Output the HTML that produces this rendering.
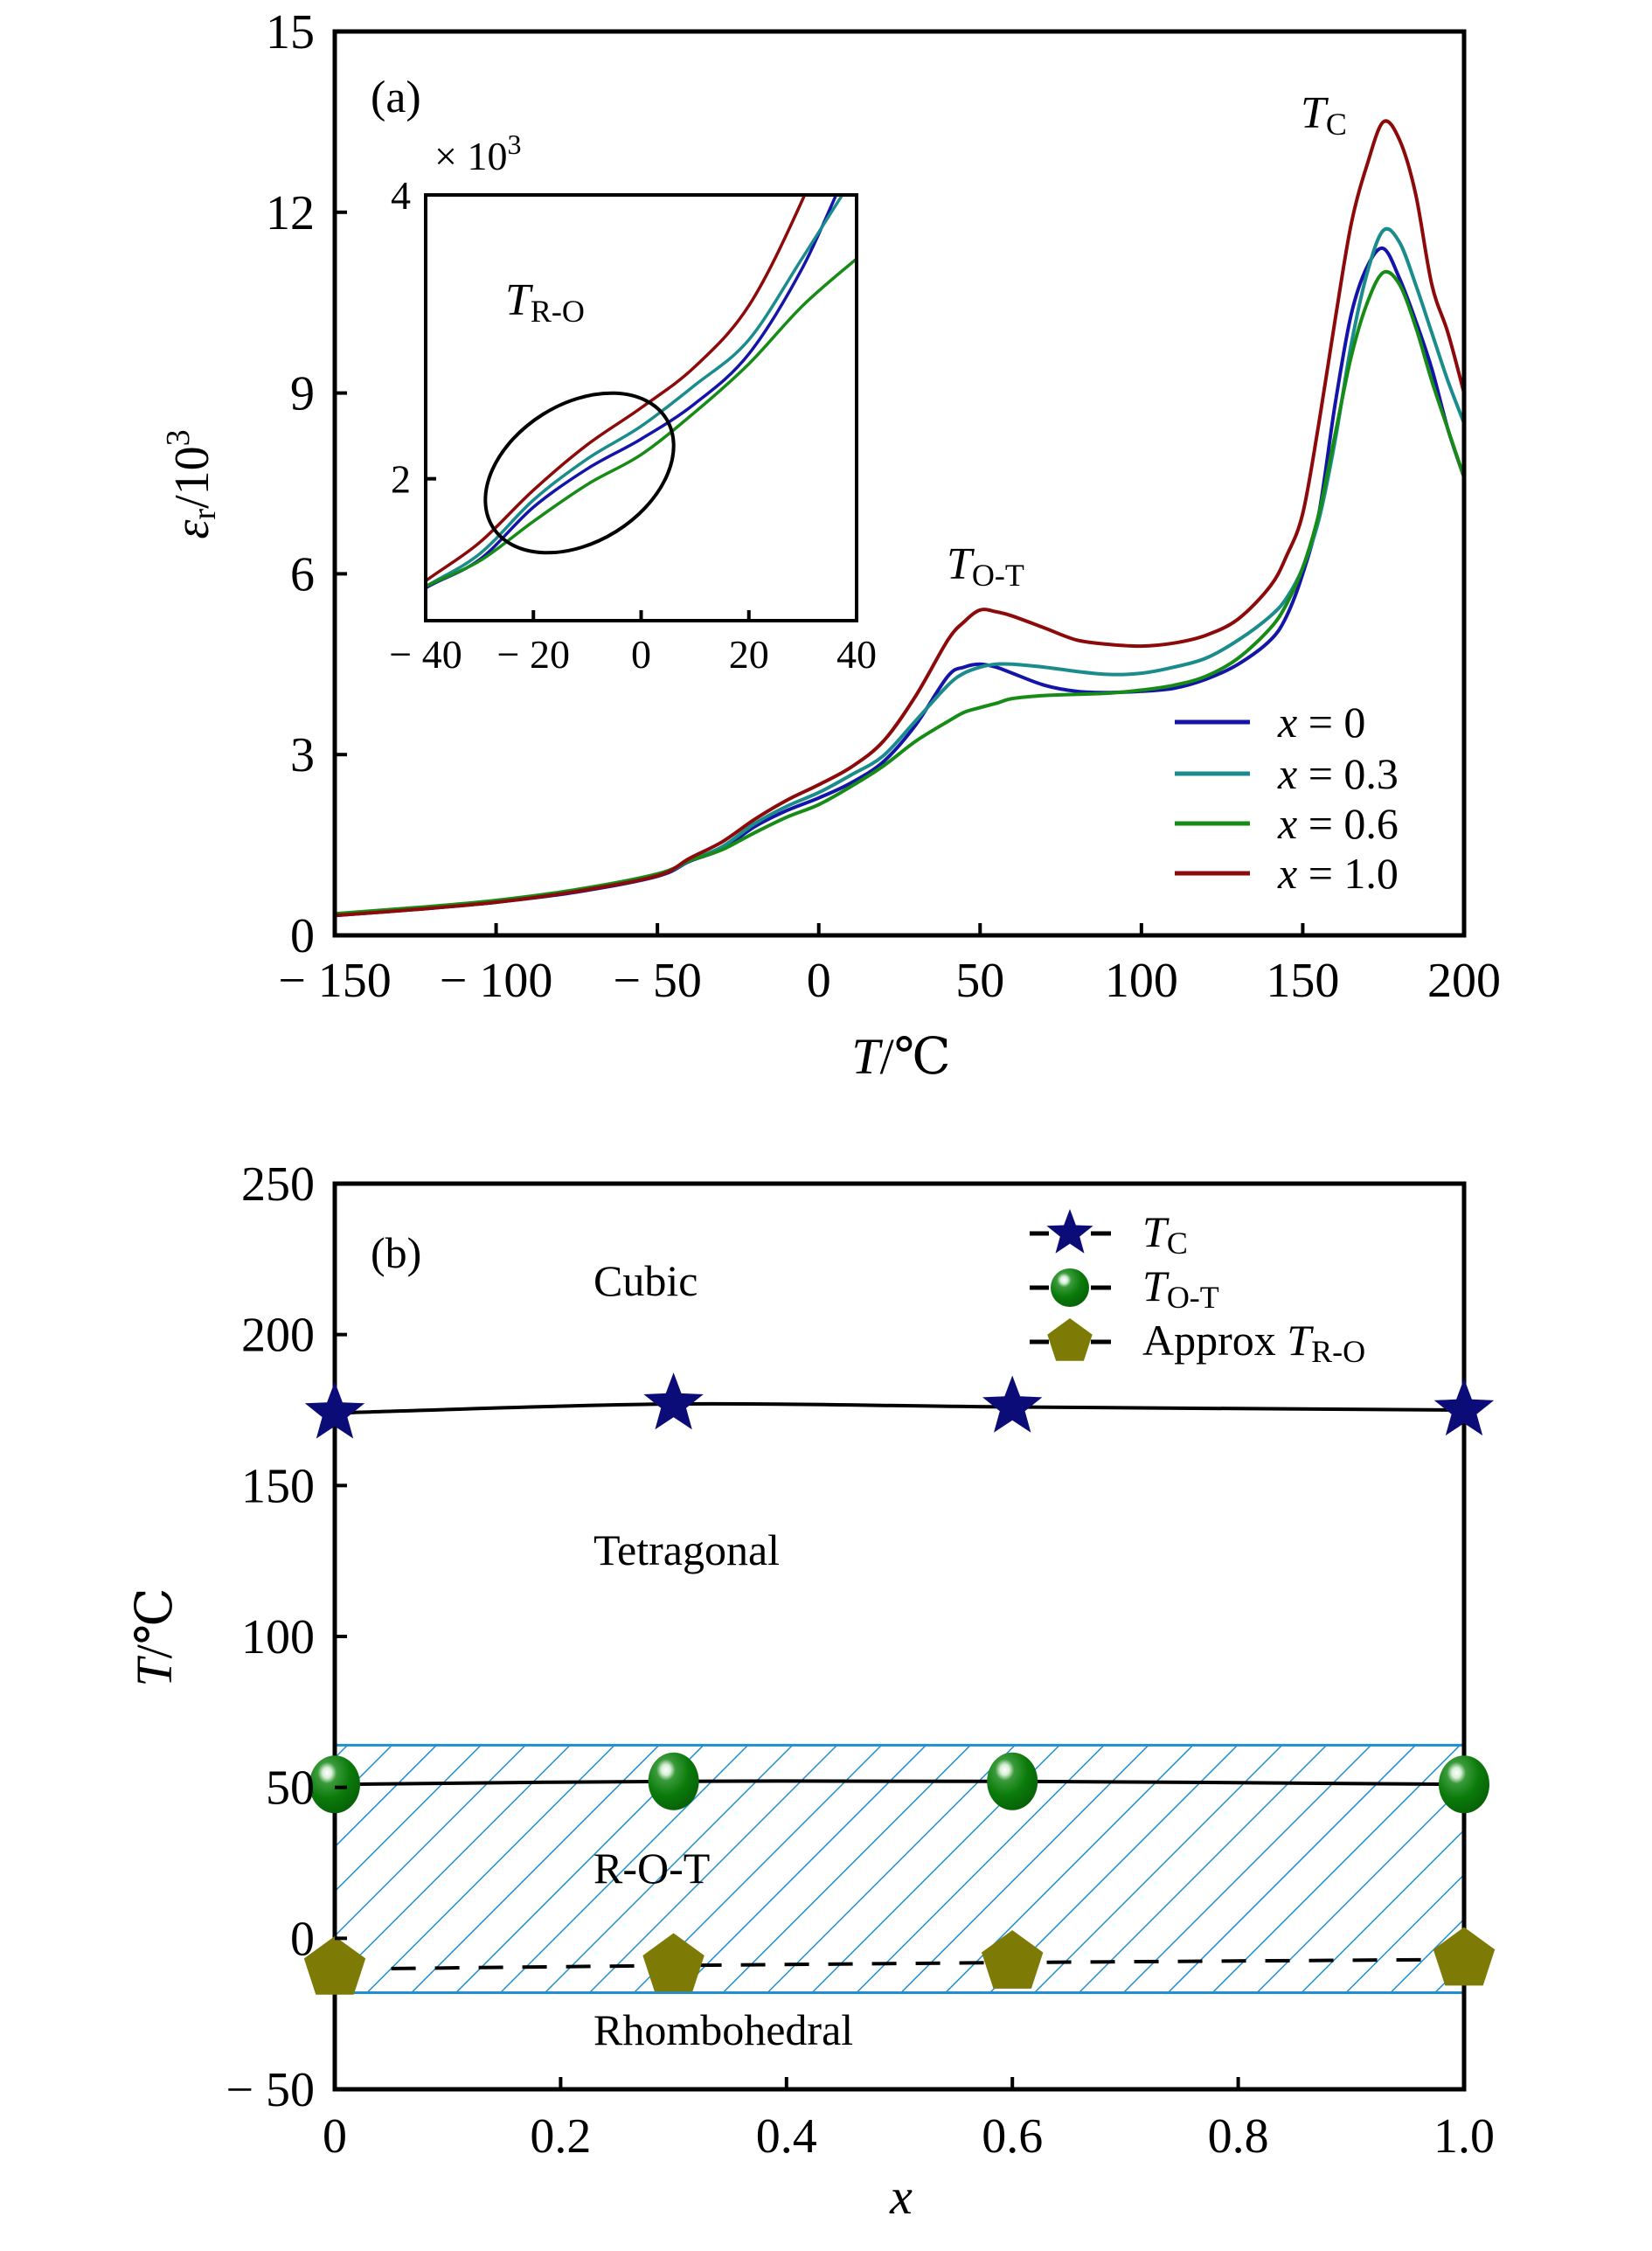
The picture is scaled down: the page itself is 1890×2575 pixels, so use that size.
<!DOCTYPE html>
<html><head><meta charset="utf-8"><style>
html,body{margin:0;padding:0;background:#fff}
svg{display:block}
text{font-family:"Liberation Serif","DejaVu Serif",serif;fill:#000}
</style></head><body>
<svg id="fig" width="1890" height="2575" viewBox="0 0 1890 2575" xmlns="http://www.w3.org/2000/svg">
<defs>
<radialGradient id="ball" cx="0.35" cy="0.3" r="0.75">
<stop offset="0" stop-color="#ffffff"/><stop offset="0.12" stop-color="#d8efd8"/><stop offset="0.25" stop-color="#3a9a3a"/><stop offset="0.6" stop-color="#0a7a0a"/><stop offset="1" stop-color="#086008"/>
</radialGradient>
<pattern id="hatch" patternUnits="userSpaceOnUse" width="36" height="36" patternTransform="rotate(45)">
<line x1="0" y1="0" x2="0" y2="36" stroke="#1f8fd0" stroke-width="3"/>
</pattern>
<clipPath id="clipA"><rect x="383" y="36" width="1292" height="1034"/></clipPath>
<clipPath id="clipI"><rect x="487" y="223" width="493" height="487"/></clipPath>
</defs>
<g id="panelA"></g>
<g id="panelB"></g>
</svg>
<script>
// ---- Panel (a) data ----
const temps = [-150,-125,-100,-75,-50,-40,-30,-20,-10,0,10,20,30,40,45,50,55,60,70,80,90,100,110,120,130,140,145,150,155,160,165,170,175,180,185,190,195,200];
const epsX0  = [0.33,0.43,0.55,0.72,0.98,1.23,1.43,1.80,2.07,2.28,2.53,2.88,3.49,4.30,4.45,4.50,4.45,4.35,4.15,4.05,4.03,4.05,4.10,4.25,4.50,4.90,5.30,6.00,7.00,8.80,10.3,11.1,11.4,10.9,10.2,9.4,8.4,7.6];
const epsX03 = [0.34,0.44,0.56,0.74,1.00,1.24,1.47,1.85,2.14,2.37,2.66,2.98,3.56,4.15,4.35,4.45,4.50,4.50,4.45,4.38,4.33,4.35,4.45,4.60,4.90,5.30,5.60,6.10,6.90,8.20,9.8,11.0,11.7,11.5,10.8,10.0,9.2,8.5];
const epsX06 = [0.36,0.46,0.58,0.76,1.02,1.24,1.42,1.70,1.96,2.17,2.47,2.81,3.22,3.55,3.70,3.78,3.85,3.93,3.98,4.00,4.02,4.07,4.15,4.30,4.60,5.10,5.50,6.10,7.00,8.30,9.6,10.5,11.0,10.8,10.1,9.2,8.4,7.6];
const epsX10 = [0.33,0.43,0.55,0.73,0.99,1.28,1.55,1.92,2.24,2.50,2.79,3.22,3.97,4.90,5.20,5.40,5.37,5.30,5.10,4.90,4.83,4.80,4.85,4.98,5.25,5.80,6.30,7.00,8.50,10.2,11.8,12.8,13.5,13.2,12.3,10.8,10.0,9.0];
const seriesNames = ["x0","x0.3","x0.6","x1.0"];
const seriesLabels = ["0","0.3","0.6","1.0"];
const seriesColors = ["#1414a8","#1a8c8c","#168c16","#8c0a0a"];
const aXTicks = [-150,-100,-50,0,50,100,150,200];
const aYTicks = [0,3,6,9,12,15];
const iXTicks = [-40,-20,0,20,40];
const iYTicks = [2,4];
// ---- Panel (b) data ----
const comps = [0,0.3,0.6,1.0];
const tC  = [174,177,176,175];
const tOT = [51,52,52,51];
const tRO = [-10,-9,-8,-7];
const bandLow = -18, bandHigh = 64;
const bXTicks = [0,0.2,0.4,0.6,0.8,1.0];
const bYTicks = [-50,0,50,100,150,200,250];

const NS="http://www.w3.org/2000/svg";
function mk(parent,tag,attrs,text){const e=document.createElementNS(NS,tag);for(const k in attrs)e.setAttribute(k,attrs[k]);if(text!==undefined)e.textContent=text;parent.appendChild(e);return e;}
function smooth(pts){let d='M'+pts[0][0].toFixed(1)+','+pts[0][1].toFixed(1);for(let i=0;i<pts.length-1;i++){const p0=pts[Math.max(i-1,0)],p1=pts[i],p2=pts[i+1],p3=pts[Math.min(i+2,pts.length-1)];const c1=[p1[0]+(p2[0]-p0[0])/6,p1[1]+(p2[1]-p0[1])/6],c2=[p2[0]-(p3[0]-p1[0])/6,p2[1]-(p3[1]-p1[1])/6];d+=' C'+c1[0].toFixed(1)+','+c1[1].toFixed(1)+' '+c2[0].toFixed(1)+','+c2[1].toFixed(1)+' '+p2[0].toFixed(1)+','+p2[1].toFixed(1);}return d;}

const A={L:383,R:1675,T:36,B:1070};
const ax=v=>A.L+(v+150)/350*(A.R-A.L);
const ay=v=>A.B-v/15*(A.B-A.T);
const I={L:487,R:980,T:223,B:710};
const ix=v=>I.L+(v+40)/80*(I.R-I.L);
const iy=v=>I.B-(v-1)/3*(I.B-I.T);
const pa=document.getElementById('panelA');
const allSeries=[epsX0,epsX03,epsX06,epsX10];

const gA=mk(pa,'g',{'clip-path':'url(#clipA)'});


allSeries.forEach((s,k)=>{
  const p=mk(gA,'path',{d:smooth(temps.map((t,i)=>[ax(t),ay(s[i])])),fill:'none',stroke:seriesColors[k],'stroke-width':4,'stroke-linejoin':'round'});
  
  
});
const fa=mk(pa,'rect',{x:A.L,y:A.T,width:A.R-A.L,height:A.B-A.T,fill:'none',stroke:'#000','stroke-width':5});


aXTicks.forEach(t=>{
  mk(pa,'line',{x1:ax(t),x2:ax(t),y1:A.B,y2:A.B-14,stroke:'#000','stroke-width':4});
  const tx=mk(pa,'text',{x:ax(t),y:1140,'font-size':56,'text-anchor':'middle'},t<0?"\u2212 "+Math.abs(t):String(t));
  
  
});
aYTicks.forEach(t=>{
  mk(pa,'line',{x1:A.L,x2:A.L+14,y1:ay(t),y2:ay(t),stroke:'#000','stroke-width':4});
  const tx=mk(pa,'text',{x:360,y:ay(t)+19,'font-size':56,'text-anchor':'end'},String(t));
  
  
});
const ib=mk(pa,'rect',{x:I.L,y:I.T,width:I.R-I.L,height:I.B-I.T,fill:'#fff',stroke:'#000','stroke-width':4});


const gI=mk(pa,'g',{'clip-path':'url(#clipI)'});


allSeries.forEach((s,k)=>{
  const p=mk(gI,'path',{d:smooth(temps.map((t,i)=>[ix(t),iy(s[i])])),fill:'none',stroke:seriesColors[k],'stroke-width':3.5,'stroke-linejoin':'round'});
  
  
});
mk(pa,'rect',{x:I.L,y:I.T,width:I.R-I.L,height:I.B-I.T,fill:'none',stroke:'#000','stroke-width':4});
iXTicks.forEach(t=>{
  if(t>-40&&t<40)mk(pa,'line',{x1:ix(t),x2:ix(t),y1:I.B,y2:I.B-12,stroke:'#000','stroke-width':4});
  const tx=mk(pa,'text',{x:ix(t),y:764,'font-size':46,'text-anchor':'middle'},t<0?"\u2212 "+Math.abs(t):String(t));
  
  
});
iYTicks.forEach(t=>{
  if(t<4)mk(pa,'line',{x1:I.L,x2:I.L+12,y1:iy(t),y2:iy(t),stroke:'#000','stroke-width':4});
  const tx=mk(pa,'text',{x:470,y:iy(t)+16,'font-size':46,'text-anchor':'end'},String(t));
  
  
});
</script>
<script>
(function(){
const pa=document.getElementById('panelA');
const ell=mk(pa,'ellipse',{cx:663,cy:541,rx:117,ry:79,transform:'rotate(-32 663 541)',fill:'none',stroke:'#000','stroke-width':4});


const sc=mk(pa,'text',{x:497,y:194,'font-size':46});
sc.innerHTML='× 10<tspan dy="-18" font-size="32">3</tspan>';


const lab=(x,y,html,name,fs)=>{const t=mk(pa,'text',{x:x,y:y,'font-size':fs||52});t.innerHTML=html;return t;};
lab(424,128,'(a)','panel-label-a');
lab(1488,146,'<tspan font-style="italic">T</tspan><tspan font-size="36" dy="8">C</tspan>','tc-annotation');
lab(1083,662,'<tspan font-style="italic">T</tspan><tspan font-size="36" dy="8">O-T</tspan>','tot-annotation');
lab(578,360,'<tspan font-style="italic">T</tspan><tspan font-size="36" dy="8">R-O</tspan>','tro-annotation');
const yl=mk(pa,'text',{x:0,y:0,'font-size':56,'text-anchor':'middle',transform:'translate(238 554) rotate(-90)'});
yl.innerHTML='<tspan font-style="italic">ε</tspan><tspan font-size="38" dy="8">r</tspan><tspan dy="-8">/10</tspan><tspan font-size="38" dy="-22">3</tspan>';


const xl=mk(pa,'text',{x:1031,y:1228,'font-size':58,'text-anchor':'middle'});
xl.innerHTML='<tspan font-style="italic">T</tspan>/℃';


const ly=[826,885,942,999];
seriesLabels.forEach((s,k)=>{
  const g=mk(pa,'g',{});
  
  
  mk(g,'line',{x1:1344,x2:1430,y1:ly[k],y2:ly[k],stroke:seriesColors[k],'stroke-width':5});
  const t=mk(g,'text',{x:1462,y:ly[k]+17,'font-size':50});
  t.innerHTML='<tspan font-style="italic">x</tspan> = '+s;
});
})();

(function(){
const B={L:383,R:1675,T:1354,B:2390};
const bx=v=>B.L+v*(B.R-B.L);
const by=v=>B.B-(v+50)/300*(B.B-B.T);
const pb=document.getElementById('panelB');
const band=mk(pb,'rect',{x:B.L,y:by(bandHigh),width:B.R-B.L,height:by(bandLow)-by(bandHigh),fill:'url(#hatch)'});


mk(pb,'line',{x1:B.L,x2:B.R,y1:by(bandHigh),y2:by(bandHigh),stroke:'#1f8fd0','stroke-width':3});
mk(pb,'line',{x1:B.L,x2:B.R,y1:by(bandLow),y2:by(bandLow),stroke:'#1f8fd0','stroke-width':3});
const l1=mk(pb,'path',{d:smooth(comps.map((c,i)=>[bx(c),by(tC[i])])),fill:'none',stroke:'#000','stroke-width':4});


const l2=mk(pb,'path',{d:smooth(comps.map((c,i)=>[bx(c),by(tOT[i])])),fill:'none',stroke:'#000','stroke-width':4});


const l3=mk(pb,'polyline',{points:comps.map((c,i)=>bx(Math.max(c,0.05))+','+by(tRO[i])).join(' '),fill:'none',stroke:'#000','stroke-width':4,'stroke-dasharray':'28 22'});


const fr=mk(pb,'rect',{x:B.L,y:B.T,width:B.R-B.L,height:B.B-B.T,fill:'none',stroke:'#000','stroke-width':5});


function star(cx,cy,r){let p=[];for(let i=0;i<10;i++){const a=-Math.PI/2+i*Math.PI/5;const rr=i%2?r*0.42:r;p.push((cx+rr*Math.cos(a)).toFixed(1)+','+(cy+rr*Math.sin(a)).toFixed(1));}return p.join(' ');}
function pent(cx,cy,r){let p=[];for(let i=0;i<5;i++){const a=-Math.PI/2+i*2*Math.PI/5;p.push((cx+r*Math.cos(a)).toFixed(1)+','+(cy+r*Math.sin(a)).toFixed(1));}return p.join(' ');}
comps.forEach((c,i)=>{
  const s=mk(pb,'polygon',{points:star(bx(c),by(tC[i]),36),fill:'#0c0c78'});
  
  
  const e=mk(pb,'ellipse',{cx:bx(c),cy:by(tOT[i]),rx:29,ry:33,fill:'url(#ball)'});
  
  
  const p=mk(pb,'polygon',{points:pent(bx(c),by(tRO[i]),37),fill:'#7d7a05'});
  
  
});
bXTicks.forEach(t=>{
  mk(pb,'line',{x1:bx(t),x2:bx(t),y1:B.B,y2:B.B-14,stroke:'#000','stroke-width':4});
  const tx=mk(pb,'text',{x:bx(t),y:2462,'font-size':56,'text-anchor':'middle'},t===0?'0':t.toFixed(1));
  
  
});
bYTicks.forEach(t=>{
  mk(pb,'line',{x1:B.L,x2:B.L+14,y1:by(t),y2:by(t),stroke:'#000','stroke-width':4});
  const tx=mk(pb,'text',{x:360,y:by(t)+19,'font-size':56,'text-anchor':'end'},t<0?"\u2212 "+Math.abs(t):String(t));
  
  
});
const lab=(x,y,html,name)=>{const t=mk(pb,'text',{x:x,y:y,'font-size':50});t.innerHTML=html;};
lab(424,1450,'(b)','panel-label-b');
lab(679,1482,'Cubic','region-cubic');
lab(679,1790,'Tetragonal','region-tetragonal');
lab(679,2154,'R-O-T','region-rot');
lab(679,2339,'Rhombohedral','region-rhombohedral');
const yl=mk(pb,'text',{x:0,y:0,'font-size':58,'text-anchor':'middle',transform:'translate(196 1873) rotate(-90)'});
yl.innerHTML='<tspan font-style="italic">T</tspan>/℃';


const xl=mk(pb,'text',{x:1031,y:2532,'font-size':58,'text-anchor':'middle','font-style':'italic'},'x');


const legY=[1411,1473,1535];
const legTxt=['<tspan font-style="italic">T</tspan><tspan font-size="36" dy="8">C</tspan>','<tspan font-style="italic">T</tspan><tspan font-size="36" dy="8">O-T</tspan>','Approx <tspan font-style="italic">T</tspan><tspan font-size="36" dy="8">R-O</tspan>'];
const legNames=['legend-entry-tc','legend-entry-tot','legend-entry-tro'];
legY.forEach((y,k)=>{
  const g=mk(pb,'g',{});
  
  
  mk(g,'line',{x1:1178,x2:1200,y1:y,y2:y,stroke:'#000','stroke-width':5});
  mk(g,'line',{x1:1248,x2:1271,y1:y,y2:y,stroke:'#000','stroke-width':5});
  if(k===0)mk(g,'polygon',{points:star(1224,y,28),fill:'#0c0c78'});
  if(k===1)mk(g,'ellipse',{cx:1224,cy:y,rx:22,ry:22,fill:'url(#ball)'});
  if(k===2)mk(g,'polygon',{points:pent(1224,y,27),fill:'#7d7a05'});
  const t=mk(g,'text',{x:1307,y:y+15,'font-size':50});
  t.innerHTML=legTxt[k];
});
})();
</script>
</body></html>
